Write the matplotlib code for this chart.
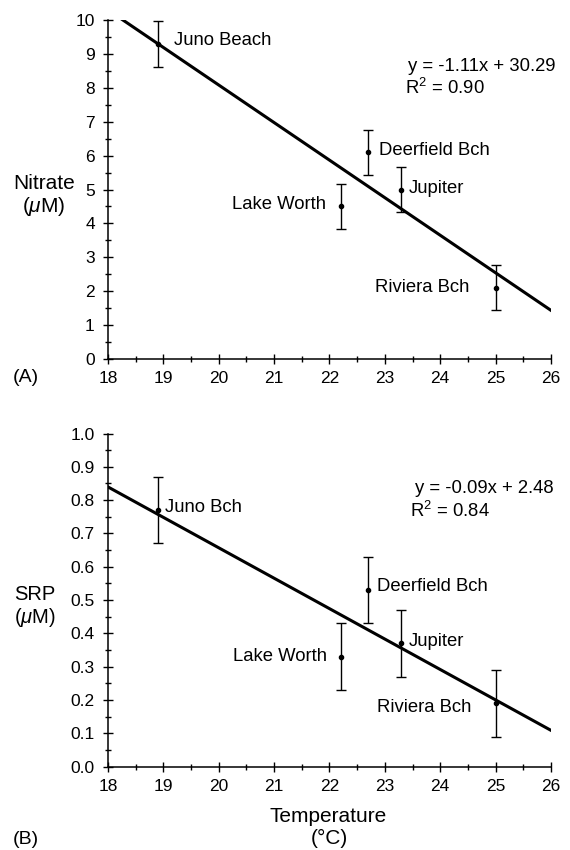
import matplotlib
matplotlib.use('Agg')
import matplotlib.pyplot as plt
import numpy as np
from matplotlib.ticker import MultipleLocator, FormatStrFormatter

plt.rcParams['font.family'] = ['Liberation Sans', 'DejaVu Sans']
plt.rcParams['mathtext.fontset'] = 'custom'
plt.rcParams['mathtext.rm'] = 'Liberation Sans'
plt.rcParams['mathtext.it'] = 'Liberation Sans:italic'

# temperatures of the five sites
temp = [18.9, 22.7, 22.2, 23.3, 25.0]

# (A) nitrate
nitrate = [9.3, 6.1, 4.5, 5.0, 2.1]
nitrate_err = [0.67, 0.67, 0.67, 0.67, 0.67]
nitrate_fit = (-1.11, 30.29)
nitrate_eq = ['y = -1.11x + 30.29', 'R$^2$ = 0.90']
nitrate_names = ['Juno Beach', 'Deerfield Bch', 'Lake Worth', 'Jupiter', 'Riviera Bch']

# (B) SRP
srp = [0.77, 0.53, 0.33, 0.37, 0.19]
srp_err = [0.10, 0.10, 0.10, 0.10, 0.10]
srp_fit = (-0.0913, 2.483)
srp_eq = ['y = -0.09x + 2.48', 'R$^2$ = 0.84']
srp_names = ['Juno Bch', 'Deerfield Bch', 'Lake Worth', 'Jupiter', 'Riviera Bch']


def style_axes(ax, ymax, ymajor, yfmt):
    ax.set_xlim(18, 26)
    ax.set_ylim(0, ymax)
    ax.spines['top'].set_visible(False)
    ax.spines['right'].set_visible(False)
    ax.spines['left'].set_linewidth(1.1)
    ax.spines['bottom'].set_linewidth(1.1)
    ax.xaxis.set_major_locator(MultipleLocator(1))
    ax.xaxis.set_minor_locator(MultipleLocator(0.5))
    ax.yaxis.set_major_locator(MultipleLocator(ymajor))
    ax.yaxis.set_minor_locator(MultipleLocator(ymajor / 2))
    ax.yaxis.set_major_formatter(FormatStrFormatter(yfmt))
    ax.tick_params(which='both', direction='inout', length=7, width=1.0,
                   labelsize=12.5)
    ax.tick_params(which='minor', length=5)
    ax.tick_params(axis='x', pad=5)
    ax.tick_params(axis='y', pad=6)


def draw_panel(ax, y, yerr, fit):
    ax.errorbar(temp, y, yerr=yerr, fmt='o', color='black', markersize=3,
                elinewidth=1.0, capsize=3.5, capthick=1.0, clip_on=False, zorder=3)
    xs = np.array([18, 26])
    ax.plot(xs, fit[0] * xs + fit[1], color='black', linewidth=2.2, zorder=2)


fig = plt.figure(figsize=(5.7, 8.5), dpi=100)
ax1 = fig.add_axes([0.1895, 0.578, 0.777, 0.398])
ax2 = fig.add_axes([0.1895, 0.098, 0.777, 0.392])

fs = 13.3

# panel A
style_axes(ax1, 10, 1, '%d')
draw_panel(ax1, nitrate, nitrate_err, nitrate_fit)
ax1.text(19.2, 9.42, nitrate_names[0], fontsize=fs, va='center', ha='left')
ax1.text(22.9, 6.14, nitrate_names[1], fontsize=fs, va='center', ha='left')
ax1.text(21.94, 4.57, nitrate_names[2], fontsize=fs, va='center', ha='right')
ax1.text(23.44, 5.03, nitrate_names[3], fontsize=fs, va='center', ha='left')
ax1.text(24.52, 2.11, nitrate_names[4], fontsize=fs, va='center', ha='right')
ax1.text(23.42, 8.63, nitrate_eq[0], fontsize=fs, va='center', ha='left')
ax1.text(23.36, 7.99, nitrate_eq[1], fontsize=fs, va='center', ha='left')
fig.text(44 / 570, 1 - 196 / 850, 'Nitrate\n($\\mu$M)', fontsize=15,
         ha='center', va='center', linespacing=1.1)
fig.text(26 / 570, 1 - 378 / 850, '(A)', fontsize=14, ha='center', va='center')

# panel B
style_axes(ax2, 1.0, 0.1, '%.1f')
draw_panel(ax2, srp, srp_err, srp_fit)
ax2.text(19.03, 0.778, srp_names[0], fontsize=fs, va='center', ha='left')
ax2.text(22.85, 0.54, srp_names[1], fontsize=fs, va='center', ha='left')
ax2.text(21.96, 0.33, srp_names[2], fontsize=fs, va='center', ha='right')
ax2.text(23.44, 0.375, srp_names[3], fontsize=fs, va='center', ha='left')
ax2.text(24.57, 0.178, srp_names[4], fontsize=fs, va='center', ha='right')
ax2.text(23.55, 0.835, srp_eq[0], fontsize=fs, va='center', ha='left')
ax2.text(23.46, 0.767, srp_eq[1], fontsize=fs, va='center', ha='left')
fig.text(35 / 570, 1 - 607 / 850, 'SRP\n($\\mu$M)', fontsize=14.5,
         ha='center', va='center', linespacing=1.1)
fig.text(26 / 570, 1 - 840 / 850, '(B)', fontsize=14, ha='center', va='center')
fig.text(328 / 570, 1 - 817 / 850, 'Temperature', fontsize=15,
         ha='center', va='center')
fig.text(329 / 570, 1 - 838 / 850, '(°C)', fontsize=15,
         ha='center', va='center')

fig.savefig('out.png', dpi=100)
